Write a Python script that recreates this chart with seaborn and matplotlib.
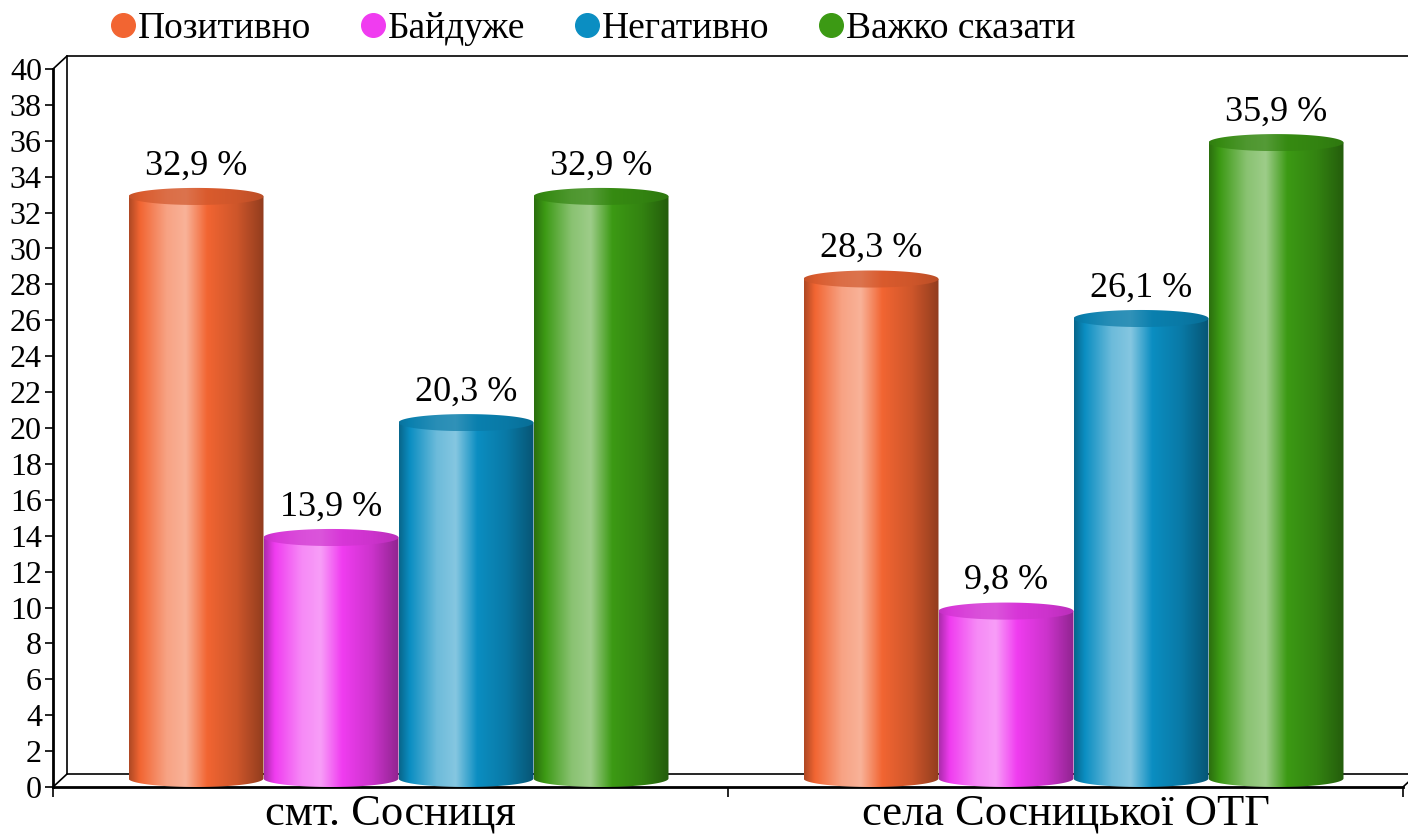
import numpy as np
import pandas as pd
import matplotlib
matplotlib.use("Agg")
import matplotlib.pyplot as plt
import matplotlib.colors as mcolors
import matplotlib.transforms as mtransforms
from matplotlib.lines import Line2D
from matplotlib.patches import Polygon
import seaborn as sns

places = ["смт. Сосниця", "села Сосницької ОТГ"]
answers = ["Позитивно", "Байдуже", "Негативно", "Важко сказати"]
positive = [32.9, 28.3]
indifferent = [13.9, 9.8]
negative = [20.3, 26.1]
hard_to_say = [32.9, 35.9]
y_ticks = list(range(0, 41, 2))

colors = ["#F26532", "#F03CF0", "#0B8EC2", "#3C9A14"]

df = pd.DataFrame({
    "place": places * 4,
    "answer": np.repeat(answers, 2),
    "value": positive + indifferent + negative + hard_to_say,
})

sns.set_style("white")
plt.rcParams["font.family"] = ["Liberation Serif", "DejaVu Serif"]
plt.rcParams["text.color"] = "black"
plt.rcParams["xtick.color"] = "black"
plt.rcParams["ytick.color"] = "black"

fig = plt.figure(figsize=(14.08, 8.38), dpi=100)
ax = fig.add_axes([53 / 1408, 51 / 838, 1350 / 1408, 718 / 838])

sns.barplot(data=df, x="place", y="value", hue="answer", hue_order=answers,
            palette=colors, width=0.8, ax=ax, legend=False)


def shade(color, n=256):
    rgb = np.array(mcolors.to_rgb(color))
    white = np.ones(3)
    stops = [0, 0.08, 0.28, 0.42, 0.58, 0.8, 1.0]
    cols = [rgb * 0.72, rgb, rgb * 0.6 + white * 0.4, rgb * 0.5 + white * 0.5,
            rgb, rgb * 0.85, rgb * 0.6]
    t = np.linspace(0, 1, n)
    return np.stack([np.interp(t, stops, [c[i] for c in cols]) for i in range(3)], axis=-1)


# bars sit half way into the 3d floor
shift = ax.transData + mtransforms.ScaledTranslation(0.08, 0, fig.dpi_scale_trans)
e = 0.95  # ellipse height in data units
theta = np.linspace(np.pi, 2 * np.pi, 60)
full = np.linspace(0, 2 * np.pi, 120)

for cont, color in zip(ax.containers, colors):
    grad = shade(color)
    rgb = np.array(mcolors.to_rgb(color))
    top_grad = (0.35 * grad + 0.65 * rgb) * 0.9
    for bar in cont:
        bar.set_visible(False)
        x0 = bar.get_x()
        w = bar.get_width()
        h = bar.get_height()
        cx = x0 + w / 2
        body = np.vstack([[x0, h]] +
                         [[cx + w / 2 * np.cos(a), e / 2 + e / 2 * np.sin(a)] for a in theta] +
                         [[x0 + w, h]])
        clip = Polygon(body, closed=True, transform=shift)
        im = ax.imshow(grad[None], extent=(x0, x0 + w, 0, h), aspect="auto",
                       interpolation="bilinear", zorder=3, transform=shift)
        im.set_clip_path(clip)

        top = np.column_stack([cx + w / 2 * np.cos(full), h + e / 2 * np.sin(full)])
        tclip = Polygon(top, closed=True, transform=shift)
        tim = ax.imshow(top_grad[None], extent=(x0, x0 + w, h - e / 2, h + e / 2),
                        aspect="auto", interpolation="bilinear", zorder=4, transform=shift)
        tim.set_clip_path(tclip)

        ax.annotate(f"{h:.1f} %".replace(".", ","), (cx, h), xycoords=shift,
                    xytext=(0, 22), textcoords="offset pixels",
                    ha="center", va="baseline", fontsize=26, color="black", zorder=5)

ax.set_xlim(-0.5, 1.5)
ax.set_ylim(0, 40)
ax.set_yticks(y_ticks)
ax.set_xticks([-0.5, 0.5, 1.5])
ax.set_xticklabels([])
ax.set_xticks([0, 1], minor=True)
ax.set_xticklabels(places, minor=True, fontsize=32)
ax.tick_params(axis="x", which="minor", length=0, pad=5, labelcolor="black")
ax.tick_params(axis="x", which="major", direction="out", length=7, width=1.2, bottom=True)
ax.tick_params(axis="y", direction="out", length=6, width=1.2, pad=2, labelsize=23,
               left=True, labelcolor="black")
ax.set_xlabel("")
ax.set_ylabel("")

for side in ["top", "right"]:
    ax.spines[side].set_visible(False)
for side in ["left", "bottom"]:
    ax.spines[side].set_linewidth(2)
    ax.spines[side].set_color("black")

# 3d frame: back wall and floor
ddx = 14 / 1350
ddy = 13 / 718
frame = [
    ([0, ddx], [1, 1 + ddy]),
    ([ddx, 1.05], [1 + ddy, 1 + ddy]),
    ([ddx, ddx], [ddy, 1 + ddy]),
    ([0, ddx], [0, ddy]),
    ([ddx, 1.05], [ddy, ddy]),
    ([1, 1 + ddx], [0, ddy]),
]
for xs, ys in frame:
    ax.add_line(Line2D(xs, ys, transform=ax.transAxes, color="black",
                       linewidth=1.2, clip_on=False, zorder=1))

handles = [Line2D([], [], marker="o", linestyle="", markersize=17,
                  markerfacecolor=c, markeredgecolor=c) for c in colors]
fig.legend(handles, answers, loc="center", bbox_to_anchor=(0.421, 0.966), ncol=4,
           frameon=False, handlelength=0.7, handletextpad=0.05, columnspacing=1.3,
           fontsize=27, labelcolor="black")

fig.savefig("out.png", dpi=100)
